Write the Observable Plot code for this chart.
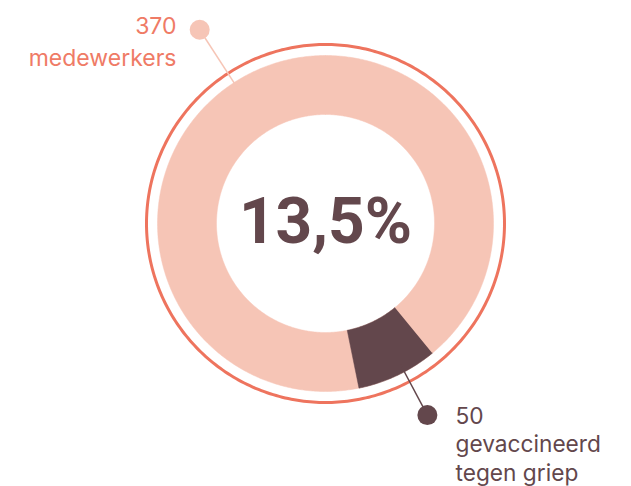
<!DOCTYPE html>
<html>
<head>
<meta charset="utf-8">
<script src="https://cdn.jsdelivr.net/npm/d3@7"></script>
<script src="https://cdn.jsdelivr.net/npm/@observablehq/plot@0.6"></script>
<style>
  html, body { margin: 0; padding: 0; background: #ffffff; }
  #chart svg { display: block; }
</style>
</head>
<body>
<div id="chart"></div>
<script>
// ---- data ----
const categories = ["medewerkers", "gevaccineerd tegen griep"];
const counts = [370, 50];
const shareLabel = "13,5%";
// visual extent of the dark slice (degrees clockwise from 12 o'clock), as drawn
const sliceAngles = [140.5, 168.5];

// ---- layout ----
const W = 631, H = 486;
const cx = 325, cy = 223;
const rInner = 109, rOuter = 168, rRing = 179;

const light = "#f6c5b6", ring = "#ee745e", dark = "#63474c", salmon = "#ef7b66";

const toXY = (deg, r) => {
  const a = deg * Math.PI / 180;
  return {x: r * Math.sin(a), y: -r * Math.cos(a)};
};

function sector(a0, a1, r0, r1, key) {
  const n = Math.max(8, Math.ceil(Math.abs(a1 - a0) * 2));
  const pts = [];
  for (let i = 0; i <= n; i++) pts.push({...toXY(a0 + (a1 - a0) * i / n, r1), key});
  for (let i = n; i >= 0; i--) pts.push({...toXY(a0 + (a1 - a0) * i / n, r0), key});
  return pts;
}

const lightRing = sector(0, 360, rInner, rOuter, categories[0]);
const darkSlice = sector(sliceAngles[0], sliceAngles[1], rInner, rOuter, categories[1]);
const outerCircle = d3.range(0, 361, 1).map(a => toXY(a, rRing));

const topAngle = 327, botAngle = 152;
const leaders = [
  {from: toXY(topAngle, 231), to: toXY(topAngle, 163), color: light},
  {from: toXY(botAngle, 217), to: toXY(botAngle, 160), color: dark}
];

const plot = Plot.plot({
  width: W,
  height: H,
  margin: 0,
  x: {domain: [-cx, W - cx], range: [0, W], axis: null},
  y: {domain: [-cy, H - cy], range: [0, H], axis: null},
  style: {fontFamily: "Inter, sans-serif", background: "#ffffff"},
  marks: [
    Plot.line(outerCircle, {x: "x", y: "y", stroke: ring, strokeWidth: 3}),
    Plot.line(lightRing, {x: "x", y: "y", fill: light, stroke: light, strokeWidth: 0.5}),
    Plot.line(darkSlice, {x: "x", y: "y", fill: dark, stroke: dark, strokeWidth: 0.5}),
    Plot.link(leaders, {
      x1: d => d.from.x, y1: d => d.from.y,
      x2: d => d.to.x, y2: d => d.to.y,
      stroke: d => d.color, strokeWidth: 1.5
    }),
    Plot.dot(leaders, {x: d => d.from.x, y: d => d.from.y, r: 10, fill: d => d.color, stroke: null}),
    Plot.text([`${counts[0]}\n${categories[0]}`], {
      x: -149, y: -158, text: d => d, textAnchor: "end", lineAnchor: "bottom",
      lineHeight: 1.39, fontSize: 23, fill: salmon, fontFamily: "Inter, sans-serif"
    }),
    Plot.text([`${counts[1]}\n${categories[1].replace("d t", "d\nt")}`], {
      x: 130, y: 257, text: d => d, textAnchor: "start", lineAnchor: "bottom",
      lineHeight: 1.25, fontSize: 22.7, fill: dark, fontFamily: "Inter, sans-serif"
    }),
    Plot.text([shareLabel], {
      x: 0, y: 19, text: d => d, textAnchor: "middle", lineAnchor: "bottom",
      fontSize: 64, fontWeight: 700, fill: dark, fontFamily: "Roboto, sans-serif"
    })
  ]
});
document.getElementById("chart").appendChild(plot);
</script>
</body>
</html>
